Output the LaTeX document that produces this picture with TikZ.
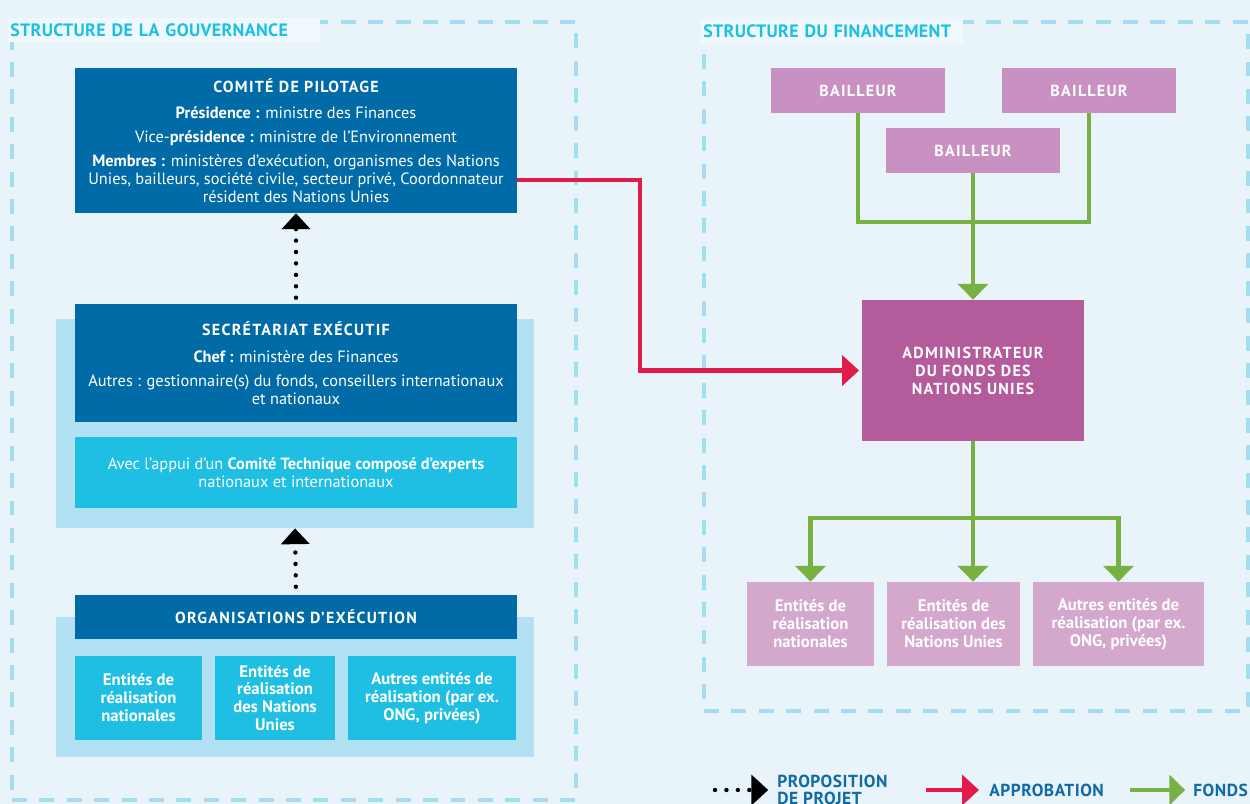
\documentclass[tikz,border=0pt]{standalone}
\usepackage{fontspec}
\setmainfont{PT Sans}
\usetikzlibrary{arrows.meta,fit}
\definecolor{bg}{HTML}{E8F3FA}
\definecolor{titlebg}{HTML}{EEF8FD}
\definecolor{dashc}{HTML}{A4DCF1}
\definecolor{cyanT}{HTML}{1DBFE3}
\definecolor{darkb}{HTML}{006BA6}
\definecolor{lightb}{HTML}{B2E1F4}
\definecolor{midb}{HTML}{1FBFE3}
\definecolor{bail}{HTML}{C891C2}
\definecolor{admc}{HTML}{B45B9B}
\definecolor{entc}{HTML}{D3A8CC}
\definecolor{redc}{HTML}{E31B4B}
\definecolor{greenc}{HTML}{77B142}
\definecolor{legc}{HTML}{0F6AA6}
\newcommand\bodyf{\fontsize{9.3}{10.2}\selectfont}
\newcommand\hdf{\fontsize{9.1}{10.2}\selectfont\bfseries\addfontfeatures{LetterSpace=8}}
\newcommand\subf{\fontsize{9.5}{10.2}\selectfont\bfseries}
\tikzset{
  box/.style={inner sep=0pt, align=center, text=white, font=\bodyf},
  darkbox/.style={box, fill=darkb},
  midbox/.style={box, fill=midb},
  subbox/.style={box, fill=midb, font=\subf, minimum height=1.68cm},
  bgbox/.style={inner sep=0pt, fill=lightb},
  bailbox/.style={box, fill=bail, font=\hdf, minimum width=3.48cm, minimum height=0.9cm},
  admbox/.style={box, fill=admc, font=\hdf},
  entbox/.style={box, fill=entc, font=\subf, minimum height=1.68cm},
  dashbox/.style={draw=dashc, line width=2.8pt, dash pattern=on 8.5pt off 7.1pt, inner sep=0pt},
  titlebox/.style={fill=titlebg, text=cyanT, font=\fontsize{10.2}{11}\selectfont\bfseries\addfontfeatures{LetterSpace=2}, anchor=west, inner xsep=1.1pt, inner ysep=0pt, minimum height=0.48cm, align=left},
  dotarrow/.style={black, line width=2.5pt, line cap=round, dash pattern=on 0pt off 6.5pt, -{Triangle[width=15.9pt,length=9pt]}},
  redarrow/.style={redc, line width=2.3pt, -{Triangle[width=17pt,length=9.6pt]}},
  gline/.style={greenc, line width=2.8pt},
  garrow/.style={gline, -{Triangle[width=17pt,length=9pt]}},
  legtext/.style={anchor=west, inner sep=0pt, text=legc, align=left, font=\fontsize{9.9}{9.8}\selectfont\bfseries\addfontfeatures{LetterSpace=3}}
}
\begin{document}
\begin{tikzpicture}[x=0.02cm,y=-0.02cm]
\fill[bg] (0,0) rectangle (1250,804);
\useasboundingbox (0,0) rectangle (1250,804);
% containers
\node[dashbox, fit={(12,22)(576,800)}] (gov) {};
\node[dashbox, fit={(704,22)(1248,711)}] (fin) {};
\node[titlebox, text width=6.16cm] (t1) at (8,30) {STRUCTURE DE LA GOUVERNANCE};
\node[titlebox, text width=5.16cm] (t2) at (701,31) {STRUCTURE DU FINANCEMENT};
% governance
\node[bgbox, fit={(56,319)(534,528)}] (secbg) {};
\node[bgbox, fit={(56,617)(534,757)}] (orgbg) {};
\node[darkbox, minimum width=8.84cm, minimum height=2.9cm] (cp) at (296,140.5) {{\hdf COMITÉ DE PILOTAGE}\\[5pt]
\textbf{Présidence :} ministre des Finances\\[3.4pt]
Vice-\textbf{présidence :} ministre de l’Environnement\\[3.4pt]
\textbf{Membres :} ministères d’exécution, organismes des Nations\\
Unies, bailleurs, société civile, secteur privé, Coordonnateur\\
résident des Nations Unies};
\node[darkbox, minimum width=8.84cm, minimum height=2.36cm] (se) at (296,363) {{\hdf SECRÉTARIAT EXÉCUTIF}\\[5pt]
\textbf{Chef :} ministère des Finances\\[3.4pt]
Autres : gestionnaire(s) du fonds, conseillers internationaux\\
et nationaux};
\node[midbox, minimum width=8.84cm, minimum height=1.42cm] (ct) at (296,472.5) {Avec l’appui d’un \textbf{Comité Technique composé d’experts}\\
nationaux et internationaux};
\node[darkbox, font=\hdf, minimum width=8.84cm, minimum height=0.88cm] (org) at (296,617) {ORGANISATIONS D’EXÉCUTION};
\node[subbox, minimum width=2.54cm] (g1) at (138.5,698) {Entités de\\réalisation\\nationales};
\node[subbox, minimum width=2.4cm] (g2) at (275,698) {Entités de\\réalisation\\des Nations\\Unies};
\node[subbox, minimum width=3.36cm] (g3) at (432,698) {Autres entités de\\réalisation (par ex.\\ONG, privées)};
\draw[dotarrow, shorten <=3.4pt] (se.north) -- (cp.south);
\draw[dotarrow, shorten <=4.5pt] (org.north) -- (secbg.south);
% financing
\node[bailbox] (b1) at (858,90.5) {BAILLEUR};
\node[bailbox] (b2) at (1089,90.5) {BAILLEUR};
\node[bailbox] (b3) at (973,150.5) {BAILLEUR};
\node[admbox, minimum width=4.44cm, minimum height=2.82cm] (adm) at (973,370.5) {ADMINISTRATEUR\\DU FONDS DES\\NATIONS UNIES};
\node[entbox, minimum width=2.54cm] (e1) at (810.5,624) {Entités de\\réalisation\\nationales};
\node[entbox, minimum width=2.66cm] (e2) at (953.5,624) {Entités de\\réalisation des\\Nations Unies};
\node[entbox, minimum width=3.42cm] (e3) at (1118.5,624) {Autres entités de\\réalisation (par ex.\\ONG, privées)};
\coordinate (gj) at (973,222);
\coordinate (gk) at (973,518);
\draw[gline] (b1.south) |- (gj) -| (b2.south);
\draw[garrow] (b3.south) -- (adm.north);
\draw[gline] (adm.south) -- (gk);
\draw[garrow] (gk) -- (adm.south |- e2.north);
\draw[garrow] (gk) -| (e1.north);
\draw[garrow] (gk) -| (e3.north);
\draw[redarrow] ([yshift=-22.4pt]cp.east) -- ++(123,0) |- ([xshift=-1.5pt]adm.west);
% legend
\node[legtext] (l1) at (777,790) {PROPOSITION\\DE PROJET};
\node[legtext] (l2) at (989,790) {APPROBATION};
\node[legtext] (l3) at (1193,790) {FONDS};
\coordinate (l1s) at (715,790);
\coordinate (l2s) at (926,790);
\coordinate (l3s) at (1130,790);
\draw[dotarrow, -{Triangle[width=17pt,length=9.6pt]}, shorten >=5pt] (l1s) -- (l1.west |- l1s);
\draw[redarrow, shorten >=5.7pt] (l2s) -- (l2.west);
\draw[garrow, shorten >=4.5pt] (l3s) -- (l3.west);
\end{tikzpicture}
\end{document}
